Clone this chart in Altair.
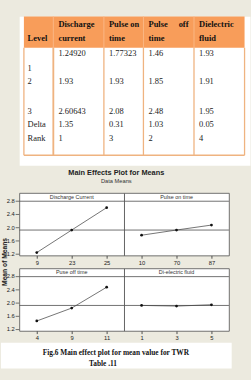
import altair as alt
import pandas as pd

# ---------------- data: table ----------------
header_lines = [["", "Level"], ["Discharge", "current"], ["Pulse on", "time"],
                ["Pulse off", "time"], ["Dielectric", "fluid"]]
level_labels = ["1", "2", "3", "Delta", "Rank"]
discharge_col = ["1.24920", "1.93", "2.60643", "1.35", "1"]
pulse_on_col = ["1.77323", "1.93", "2.08", "0.31", "3"]
pulse_off_col = ["1.46", "1.85", "2.48", "1.03", "2"]
dielectric_col = ["1.93", "1.91", "1.95", "0.05", "4"]

# ---------------- data: main effects plot ----------------
factors = ["Discharge Current", "Pulse on time", "Puse off time", "Di-electric fluid"]
discharge_levels = ["9", "23", "25"]
pulse_on_levels = ["10", "70", "87"]
pulse_off_levels = ["4", "9", "11"]
dielectric_levels = ["1", "3", "5"]
discharge_means = [1.2492, 1.93, 2.60643]
pulse_on_means = [1.77323, 1.93, 2.08]
pulse_off_means = [1.46, 1.85, 2.48]
dielectric_means = [1.93, 1.91, 1.95]
y_ticks = [1.2, 1.6, 2.0, 2.4, 2.8]

caption_lines = ["Fig.6 Main effect plot for  mean value for TWR", "Table .11"]
plot_title = "Main Effects Plot for Means"
plot_subtitle = "Data Means"
y_title = "Mean of Means"

# ---------------- layout / style constants ----------------
W = 251
PANEL_LEFT = 20
TABLE_H = 162
GAP = 3
PANEL_W, PANEL_H = 114, 68
ROW_GAP = 14
COL_EDGES = [5, 37, 92, 135, 190, 245]
HEAD_BOTTOM = 34
TABLE_BOTTOM = 151
HEAD_Y = [9, 24]
VALUE_Y = [40, 71, 103, 117, 133]
LEVEL_Y = [56, 71, 103, 117, 133]
INSET = 5.5
CAP_TOP = PANEL_H + 13          # below the bottom-left panel
CAP_BOTTOM = PANEL_H + 41
CAP_DX = [105, 91]
CAP_DY = [PANEL_H + 24, PANEL_H + 36]
Y_DOMAIN = [1.161, 3.05]

ORANGE = "#F89D5A"
HEAD_LINE = "#FBB988"
BORDER = "#EFB380"
BEIGE = "#ECEADF"
SERIF = "Liberation Serif"
SANS = "Liberation Sans"


def X():
    return alt.X("x:Q", axis=None,
                 scale=alt.Scale(domain=[0, W], range=[0, W], nice=False, zero=False))


def Y(extent):
    return alt.Y("y:Q", axis=None,
                 scale=alt.Scale(domain=[0, extent], range=[0, extent], nice=False, zero=False))


# ---------------- table chart ----------------
head_left, head_right, body = [], [], []
for c, lines in enumerate(header_lines):
    for li, t in enumerate(lines):
        if not t:
            continue
        if c == 3 and li == 0:
            words = t.split()
            head_left.append(dict(x=COL_EDGES[c] + INSET, y=HEAD_Y[li], t=words[0]))
            head_right.append(dict(x=COL_EDGES[c + 1] - 6, y=HEAD_Y[li], t=words[-1]))
        else:
            head_left.append(dict(x=COL_EDGES[c] + (4 if c == 0 else INSET), y=HEAD_Y[li], t=t))

for c, col in enumerate([level_labels, discharge_col, pulse_on_col, pulse_off_col, dielectric_col]):
    for r, t in enumerate(col):
        y = LEVEL_Y[r] if c == 0 else VALUE_Y[r]
        body.append(dict(x=COL_EDGES[c] + (4 if c == 0 else INSET), y=y, t=t))

rect_df = pd.DataFrame([dict(x=COL_EDGES[0], x2=COL_EDGES[-1], y=0, y2=HEAD_BOTTOM)])
head_lines_df = pd.DataFrame([dict(x=e, x2=e, y=0, y2=HEAD_BOTTOM) for e in COL_EDGES[1:-1]])
body_lines = [dict(x=e, x2=e, y=HEAD_BOTTOM, y2=TABLE_BOTTOM, w=2 if i == 1 else 1.4)
              for i, e in enumerate(COL_EDGES)]
body_lines.append(dict(x=COL_EDGES[0], x2=COL_EDGES[-1], y=TABLE_BOTTOM, y2=TABLE_BOTTOM, w=1.6))
body_lines_df = pd.DataFrame(body_lines)

t_rect = alt.Chart(rect_df).mark_rect(color=ORANGE).encode(
    x=X(), x2=alt.X2("x2"), y=Y(TABLE_H), y2=alt.Y2("y2"))
t_hlines = alt.Chart(head_lines_df).mark_rule(color=HEAD_LINE, strokeWidth=1).encode(
    x=X(), x2=alt.X2("x2"), y=Y(TABLE_H), y2=alt.Y2("y2"))
t_blines = alt.Chart(body_lines_df).mark_rule(color=BORDER).encode(
    x=X(), x2=alt.X2("x2"), y=Y(TABLE_H), y2=alt.Y2("y2"),
    strokeWidth=alt.StrokeWidth("w:Q", scale=None))
t_head_l = alt.Chart(pd.DataFrame(head_left)).mark_text(
    font=SERIF, fontSize=9.2, fontWeight="bold", align="left", baseline="middle", color="#111").encode(
    x=X(), y=Y(TABLE_H), text="t:N")
t_head_r = alt.Chart(pd.DataFrame(head_right)).mark_text(
    font=SERIF, fontSize=9.2, fontWeight="bold", align="right", baseline="middle", color="#111").encode(
    x=X(), y=Y(TABLE_H), text="t:N")
t_body = alt.Chart(pd.DataFrame(body)).mark_text(
    font=SERIF, fontSize=9.2, align="left", baseline="middle", color="#222").encode(
    x=X(), y=Y(TABLE_H), text="t:N")

table_chart = alt.layer(t_rect, t_hlines, t_blines, t_head_l, t_head_r, t_body).properties(
    width=W, height=TABLE_H, view=alt.ViewBackground(fill="white", stroke="transparent"))

# ---------------- main effects facet ----------------
recs = []
for k, (f, labs, means) in enumerate(zip(
        factors,
        [discharge_levels, pulse_on_levels, pulse_off_levels, dielectric_levels],
        [discharge_means, pulse_on_means, pulse_off_means, dielectric_means])):
    for i, (lab, m) in enumerate(zip(labs, means)):
        recs.append(dict(kind="pt", factor=f, prow=k // 2, pcol=k % 2, lvl=i + 1,
                         label=lab, mean=m))
for prow in (0, 1):
    for t in y_ticks:
        recs.append(dict(kind="tick", factor=factors[2 * prow], prow=prow, pcol=0, lvl=0,
                         label="", mean=t))
df = pd.DataFrame(recs)
pts_df = df[df["kind"] == "pt"]
grand_mean = float(pts_df["mean"].mean())

yscale = alt.Scale(domain=Y_DOMAIN, nice=False, zero=False)
xenc = alt.X("label:N", sort=alt.EncodingSortField(field="lvl", op="min"),
             scale=alt.Scale(type="point", padding=0.5),
             axis=alt.Axis(title=None, labelAngle=0, domain=False, tickSize=3, tickColor="#444",
                           labelFont=SANS, labelFontSize=6.3, labelColor="#222", labelPadding=1.5))
yenc = alt.Y("mean:Q", scale=yscale, axis=None)


def ydat(v):
    return alt.YDatum(v, type="quantitative", scale=yscale, axis=None)


base = alt.Chart()
is_pt = "datum.kind == 'pt'"
is_tick = "datum.kind == 'tick'"
mean_rule = base.mark_rule(color="#555", strokeWidth=0.9).encode(
    y=ydat(grand_mean)).transform_filter(f"{is_pt} && datum.lvl == 1")
strip_rule = base.mark_rule(color="#555", strokeWidth=0.9).encode(
    y=ydat(y_ticks[-1])).transform_filter(f"{is_pt} && datum.lvl == 1")
line = base.mark_line(color="#444", strokeWidth=0.8).encode(x=xenc, y=yenc).transform_filter(is_pt)
pts = base.mark_circle(size=9, color="#111", opacity=1).encode(x=xenc, y=yenc).transform_filter(is_pt)
strip_text = base.mark_text(font=SANS, fontSize=5.9, color="#333", baseline="middle").encode(
    x=xenc, y=ydat((y_ticks[-1] + Y_DOMAIN[1]) / 2), text="factor:N"
).transform_filter(f"{is_pt} && datum.lvl == 2")
tick_marks = base.mark_rule(color="#444", strokeWidth=0.8).encode(
    x=alt.value(-4), x2=alt.value(0), y=yenc).transform_filter(is_tick)
tick_labels = base.mark_text(font=SANS, fontSize=6.3, color="#222", align="right",
                             baseline="middle").encode(
    x=alt.value(-5), y=yenc, text=alt.Text("mean:Q", format=".1f")).transform_filter(is_tick)
first_pt = f"{is_pt} && datum.lvl == 1 && datum.factor == '{factors[0]}'"
ytitle = base.mark_text(font=SANS, fontSize=7.3, fontWeight="bold", angle=270,
                        baseline="middle", color="#222").encode(
    x=alt.value(-15.5), y=alt.value(PANEL_H + ROW_GAP / 2), text=alt.value(y_title)
).transform_filter(first_pt)

cap_pt = f"{is_pt} && datum.lvl == 1 && datum.factor == '{factors[2]}'"
cap_bg = base.mark_rect(color="white").encode(
    x=alt.value(-PANEL_LEFT), x2=alt.value(W - PANEL_LEFT),
    y=alt.value(CAP_TOP), y2=alt.value(CAP_BOTTOM)).transform_filter(cap_pt)
cap_layers = [
    base.mark_text(font=SERIF, fontSize=8, fontWeight="bold", align="center",
                   baseline="middle", color="#111").encode(
        x=alt.value(CAP_DX[j]), y=alt.value(CAP_DY[j]), text=alt.value(caption_lines[j])
    ).transform_filter(cap_pt)
    for j in range(len(caption_lines))
]

panels = alt.layer(mean_rule, strip_rule, line, pts, strip_text, tick_marks, tick_labels,
                   ytitle, cap_bg, *cap_layers).properties(width=PANEL_W, height=PANEL_H)

no_header = alt.Header(labels=False, title=None, labelPadding=0, titlePadding=0)
facet_chart = panels.facet(
    row=alt.Facet("prow:O", header=no_header),
    column=alt.Facet("pcol:O", header=no_header),
    data=df, spacing={"row": ROW_GAP, "column": 0}, bounds="flush",
    title=alt.TitleParams(plot_title, subtitle=plot_subtitle, font=SANS, fontSize=8,
                          fontWeight="bold", color="#222", subtitleFont=SANS,
                          subtitleFontSize=6.2, subtitleColor="#333", subtitlePadding=2,
                          anchor="middle", offset=9)
).resolve_scale(x="independent")

chart = alt.vconcat(table_chart, facet_chart, spacing=GAP).properties(
    background=BEIGE, padding=0
).configure_view(fill="white", stroke="#555", strokeWidth=0.9)

chart.save("out.html", embed_options={"renderer": "svg", "actions": False})
